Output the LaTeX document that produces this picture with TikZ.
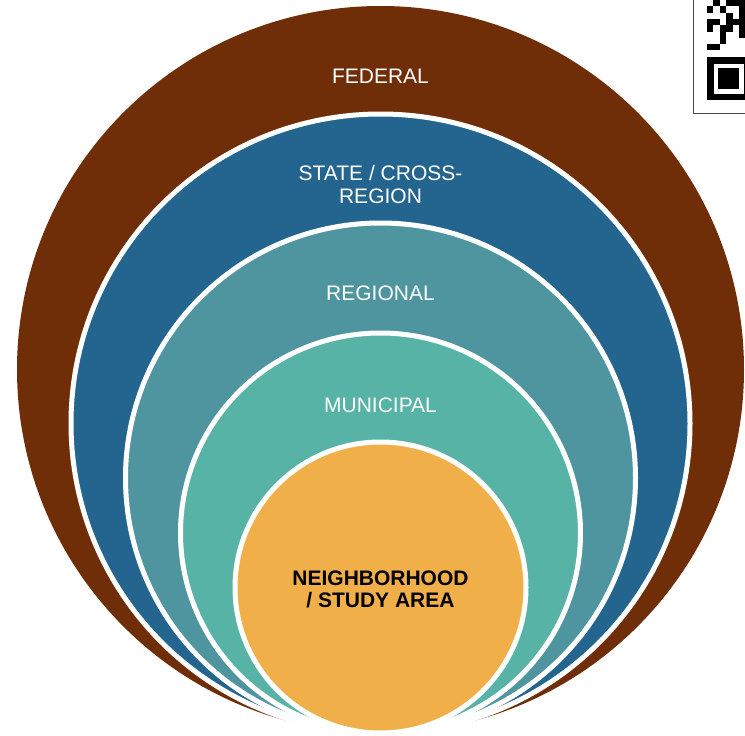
\documentclass[tikz,border=0pt]{standalone}
\usepackage{fontspec}
\setmainfont{Liberation Sans}
\definecolor{federalbrown}{RGB}{111,46,8}
\definecolor{stateblue}{RGB}{35,101,142}
\definecolor{regionalteal}{RGB}{79,149,160}
\definecolor{municipalgreen}{RGB}{87,179,165}
\definecolor{studyorange}{RGB}{240,175,72}
\definecolor{qrgray}{RGB}{70,70,70}
\tikzset{
  ring/.style={circle, inner sep=0pt, outer sep=0pt, draw=white, line width=5pt},
  ringlabel/.style={text=white, align=center, inner sep=0pt, font=\fontsize{21}{23}\selectfont},
  qrmodule/.style={fill=black},
}

\begin{document}
\begin{tikzpicture}[x=1pt, y=-1pt]
\useasboundingbox (0,0) rectangle (745,736);
% nested circles, all touching at the bottom
\node[ring, draw=none, fill=federalbrown, minimum size=727pt] (federal) at (380.5,369.5) {};
\node[ring, fill=stateblue, minimum size=619pt] (state) at (380.5,423.5) {};
\node[ring, fill=regionalteal, minimum size=510pt] (regional) at (380.5,478) {};
\node[ring, fill=municipalgreen, minimum size=400pt] (municipal) at (380.5,533) {};
\node[ring, fill=studyorange, minimum size=291pt] (study) at (380.5,587.5) {};
% labels
\node[ringlabel] (federallabel) at (380.5,76) {FEDERAL};
\node[ringlabel] (statelabel) at (380.5,184) {STATE / CROSS-\\REGION};
\node[ringlabel] (regionallabel) at (380.5,293) {REGIONAL};
\node[ringlabel] (municipallabel) at (380.5,405) {MUNICIPAL};
\node[ringlabel, text=black, font=\bfseries\fontsize{21}{22}\selectfont] (studylabel) at (380.5,589.5) {NEIGHBORHOOD\\/ STUDY AREA};
% code in the corner
\draw[qrgray, line width=1pt, fill=white] (693,-5) rectangle (760,113);
\fill[qrmodule] (713.4,0) rectangle (719.8,6.3);
\fill[qrmodule] (726.2,0) rectangle (745.4,6.3);
\fill[qrmodule] (707,6.3) rectangle (713.4,12.6);
\fill[qrmodule] (719.8,6.3) rectangle (726.2,12.6);
\fill[qrmodule] (739,6.3) rectangle (745.4,12.6);
\fill[qrmodule] (726.2,12.6) rectangle (732.6,18.9);
\fill[qrmodule] (739,12.6) rectangle (745.4,18.9);
\fill[qrmodule] (707,18.9) rectangle (719.8,25.2);
\fill[qrmodule] (726.2,18.9) rectangle (745.4,25.2);
\fill[qrmodule] (707,25.2) rectangle (713.4,31.5);
\fill[qrmodule] (719.8,25.2) rectangle (732.6,31.5);
\fill[qrmodule] (739,25.2) rectangle (745.4,31.5);
\fill[qrmodule] (719.8,31.5) rectangle (726.2,37.8);
\fill[qrmodule] (739,31.5) rectangle (745.4,37.8);
\fill[qrmodule] (719.8,37.8) rectangle (726.2,44.1);
\fill[qrmodule] (707,44.1) rectangle (719.8,50.4);
\fill[qrmodule] (707,57) rectangle (750,100);
\fill[white] (713.5,63.5) rectangle (743.5,93.5);
\fill[qrmodule] (718,68) rectangle (739,89);
\end{tikzpicture}
\end{document}
